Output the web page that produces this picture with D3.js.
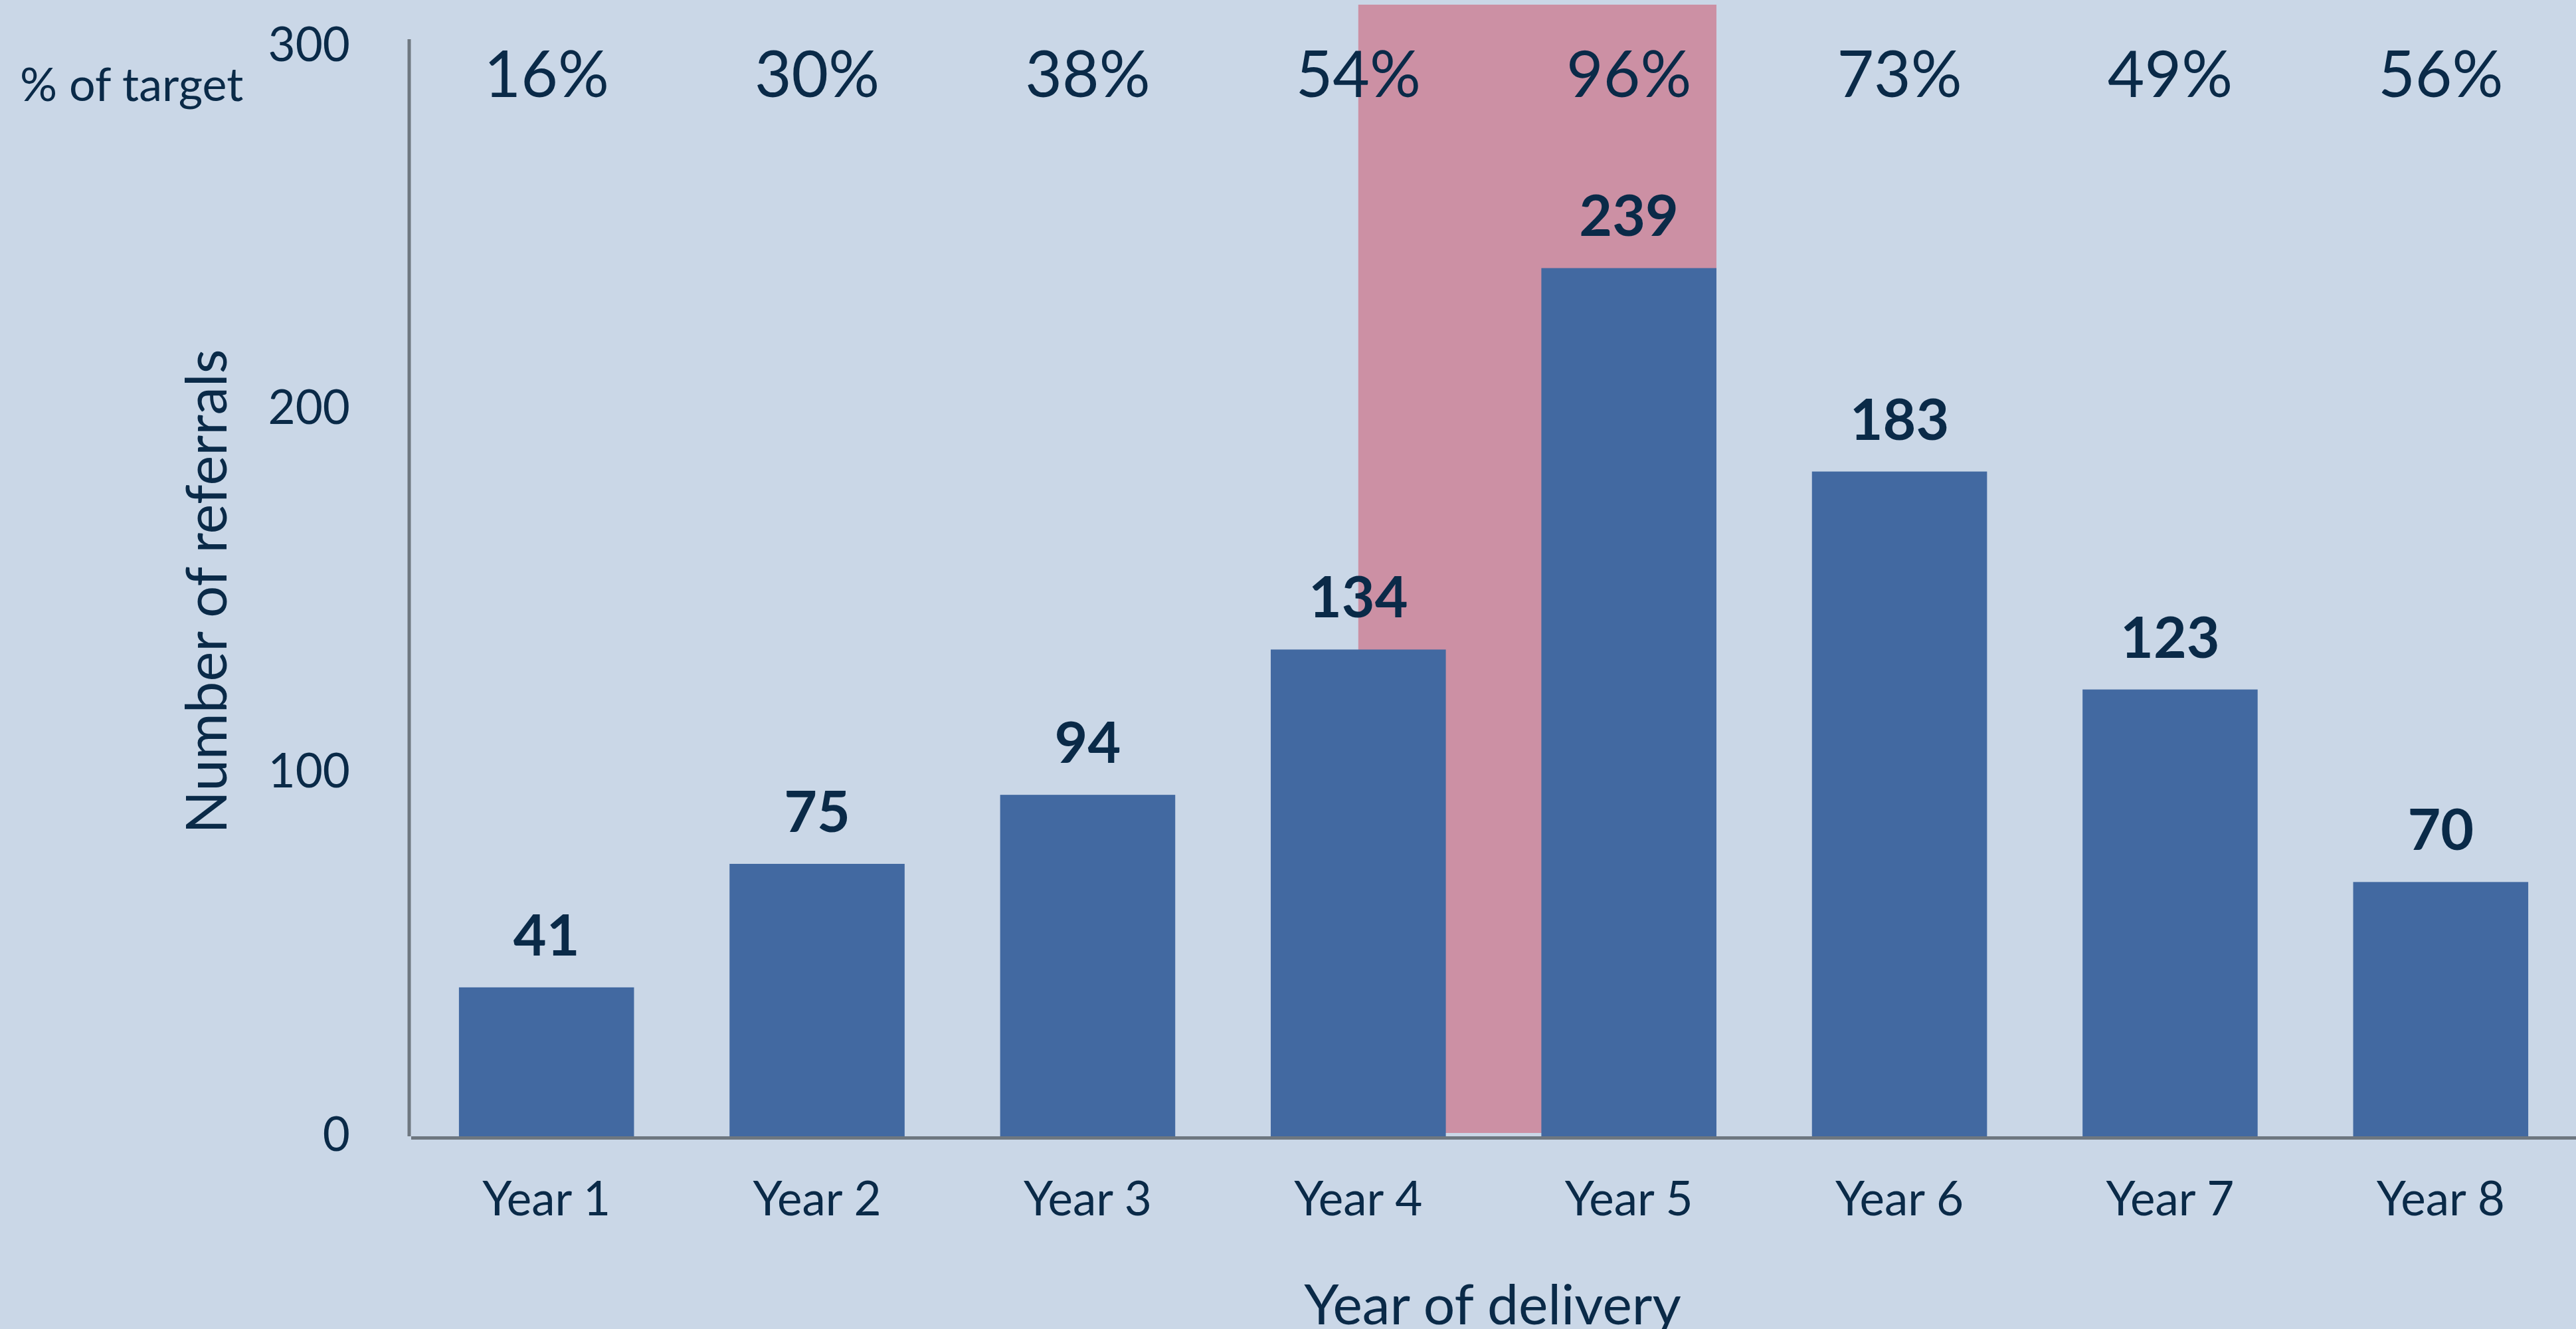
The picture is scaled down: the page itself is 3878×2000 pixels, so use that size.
<!DOCTYPE html>
<html>
<head>
<meta charset="utf-8">
<script src="https://cdn.jsdelivr.net/npm/d3@7"></script>
<style>
  html, body { margin: 0; padding: 0; background: #cad7e7; }
  svg { display: block; font-family: Lato, "Open Sans", sans-serif; }
</style>
</head>
<body>
<script>
const width = 3878;
const height = 2000;

// data
const years = ["Year 1", "Year 2", "Year 3", "Year 4", "Year 5", "Year 6", "Year 7", "Year 8"];
const referrals = [41, 75, 94, 134, 239, 183, 123, 70];
const pctOfTarget = ["16%", "30%", "38%", "54%", "96%", "73%", "49%", "56%"];
const yTicks = [0, 100, 200, 300];
const highlightFrom = "Year 4";
const highlightTo = "Year 5";

const textColor = "#0a2a48";
const barColor = "#4269a1";
const axisColor = "#6e7780";

const x = d3.scaleBand()
  .domain(years)
  .range([619, 3878])
  .paddingInner(0.353)
  .paddingOuter(0.1765);

const y = d3.scaleLinear()
  .domain([0, 300])
  .range([1710, 70]);

const svg = d3.select("body")
  .append("svg")
  .attr("width", width)
  .attr("height", height);

svg.append("rect")
  .attr("width", width)
  .attr("height", height)
  .attr("fill", "#cad7e7");

// pink highlight behind years 4-5
svg.append("rect")
  .attr("x", x(highlightFrom) + x.bandwidth() / 2)
  .attr("y", y(300) - 63)
  .attr("width", x(highlightTo) + x.bandwidth() - (x(highlightFrom) + x.bandwidth() / 2))
  .attr("height", y(0) - 5 - (y(300) - 63))
  .attr("fill", "#cc90a4");

// bars
svg.selectAll(".bar")
  .data(referrals)
  .enter().append("rect")
  .attr("class", "bar")
  .attr("x", function (d, i) { return x(years[i]); })
  .attr("y", function (d) { return y(d); })
  .attr("width", x.bandwidth())
  .attr("height", function (d) { return y(0) - y(d); })
  .attr("fill", barColor);

// value labels
svg.selectAll(".val")
  .data(referrals)
  .enter().append("text")
  .attr("class", "val")
  .attr("x", function (d, i) { return x(years[i]) + x.bandwidth() / 2; })
  .attr("y", function (d) { return y(d) - 48; })
  .attr("text-anchor", "middle")
  .attr("font-size", 86)
  .attr("font-weight", 700)
  .attr("fill", textColor)
  .text(function (d) { return d; });

// % of target row
svg.selectAll(".pct")
  .data(pctOfTarget)
  .enter().append("text")
  .attr("class", "pct")
  .attr("x", function (d, i) { return x(years[i]) + x.bandwidth() / 2; })
  .attr("y", 146)
  .attr("text-anchor", "middle")
  .attr("font-size", 96)
  .attr("fill", textColor)
  .text(function (d) { return d; });

svg.append("text")
  .attr("x", 30)
  .attr("y", 152)
  .attr("font-size", 70)
  .attr("fill", textColor)
  .text("% of target");

// y axis
const yAxis = svg.append("g")
  .attr("transform", "translate(616,0)")
  .call(d3.axisLeft(y).tickValues(yTicks).tickSize(0).tickPadding(89));
yAxis.select(".domain")
  .attr("d", "M0," + (y(300) - 11) + "V" + y(0))
  .attr("stroke", axisColor)
  .attr("stroke-width", 5);
yAxis.selectAll("text")
  .attr("font-size", 71)
  .attr("font-family", "Lato")
  .attr("fill", textColor)
  .attr("dy", "0.3em");

// x axis
const xAxis = svg.append("g")
  .attr("transform", "translate(0," + (y(0) + 2.5) + ")")
  .call(d3.axisBottom(x).tickSize(0).tickPadding(116));
xAxis.select(".domain")
  .attr("d", "M619,0H" + width)
  .attr("stroke", axisColor)
  .attr("stroke-width", 5);
xAxis.selectAll("text")
  .attr("font-size", 71)
  .attr("font-family", "Lato")
  .attr("fill", textColor)
  .attr("dy", 0);

// axis titles
svg.append("text")
  .attr("x", (616 + width) / 2)
  .attr("y", 1993)
  .attr("text-anchor", "middle")
  .attr("font-size", 84)
  .attr("fill", textColor)
  .text("Year of delivery");

svg.append("text")
  .attr("transform", "translate(341," + (y(0) + y(300)) / 2 + ")rotate(-90)")
  .attr("text-anchor", "middle")
  .attr("font-size", 85)
  .attr("fill", textColor)
  .text("Number of referrals");
</script>
</body>
</html>
